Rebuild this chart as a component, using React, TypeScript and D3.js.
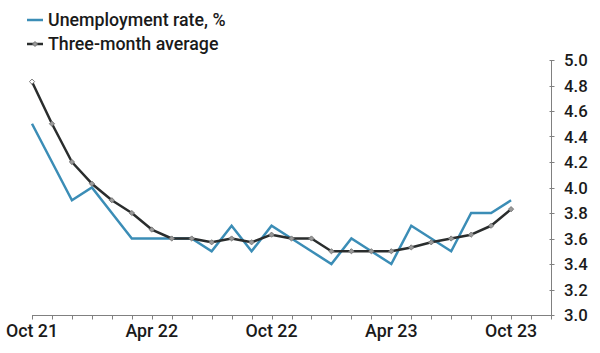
import React from "react";
import * as d3 from "d3";

const months = [
  "Oct 21", "Nov 21", "Dec 21", "Jan 22", "Feb 22", "Mar 22", "Apr 22", "May 22", "Jun 22",
  "Jul 22", "Aug 22", "Sep 22", "Oct 22", "Nov 22", "Dec 22", "Jan 23", "Feb 23", "Mar 23",
  "Apr 23", "May 23", "Jun 23", "Jul 23", "Aug 23", "Sep 23", "Oct 23",
];
const unemployment = [
  4.5, 4.2, 3.9, 4.0, 3.8, 3.6, 3.6, 3.6, 3.6, 3.5, 3.7, 3.5, 3.7,
  3.6, 3.5, 3.4, 3.6, 3.5, 3.4, 3.7, 3.6, 3.5, 3.8, 3.8, 3.9,
];
const threeMonthAvg = [
  4.83, 4.5, 4.2, 4.03, 3.9, 3.8, 3.67, 3.6, 3.6, 3.57, 3.6, 3.57, 3.63,
  3.6, 3.6, 3.5, 3.5, 3.5, 3.5, 3.53, 3.57, 3.6, 3.63, 3.7, 3.83,
];
const xTickLabels = ["Oct 21", "Apr 22", "Oct 22", "Apr 23", "Oct 23"];
const yTicks = [3.0, 3.2, 3.4, 3.6, 3.8, 4.0, 4.2, 4.4, 4.6, 4.8, 5.0];
const legendLabels = ["Unemployment rate, %", "Three-month average"];

const BLUE = "#3b8db6";
const DARK = "#2a2d2d";
const FONT = "Roboto, 'Liberation Sans', sans-serif";

export default function App() {
  const W = 600;
  const H = 353;
  const x = d3.scaleLinear().domain([0, 26]).range([32, 551]);
  const y = d3.scaleLinear().domain([3.0, 5.0]).range([315, 60]);
  const axisX = 551.5;
  const axisY = 315.5;

  const line = d3
    .line<number>()
    .x((_, i) => x(i))
    .y((d) => y(d));

  const xTickIdx = d3.range(0, 27);
  const diamond = (cx: number, cy: number, r: number) =>
    `M${cx},${cy - r}L${cx + r},${cy}L${cx},${cy + r}L${cx - r},${cy}Z`;

  return (
    <svg
      width={W}
      height={H}
      style={{ position: "absolute", left: 0, top: 0, background: "#fff" }}
      fontFamily={FONT}
    >
      {/* legend */}
      <line x1={27} x2={43} y1={20} y2={20} stroke={BLUE} strokeWidth={2.5} />
      <text x={48} y={25.5} fontSize={17.8} fontWeight={500} fill="#1a1a1a">
        {legendLabels[0]}
      </text>
      <line x1={27} x2={43} y1={44} y2={44} stroke={DARK} strokeWidth={2.5} />
      <path d={diamond(35, 44, 2.5)} fill="#999" stroke="#777" strokeWidth={1} />
      <text x={48} y={49.5} fontSize={17.8} fontWeight={500} fill="#1a1a1a">
        {legendLabels[1]}
      </text>

      {/* x axis */}
      <line x1={32} x2={axisX} y1={axisY} y2={axisY} stroke="#808080" strokeWidth={1} />
      {xTickIdx.map((i) => (
        <line
          key={i}
          x1={Math.round(x(i)) + 0.5}
          x2={Math.round(x(i)) + 0.5}
          y1={axisY}
          y2={axisY + 4}
          stroke="#808080"
          strokeWidth={1}
        />
      ))}
      {xTickLabels.map((lab) => {
        const i = months.indexOf(lab);
        return (
          <text
            key={lab}
            x={x(i)}
            y={337}
            textAnchor="middle"
            fontSize={17.8}
            fontWeight={500}
            fill="#1a1a1a"
          >
            {lab}
          </text>
        );
      })}

      {/* y axis */}
      <line x1={axisX} x2={axisX} y1={y(5.0)} y2={axisY} stroke="#808080" strokeWidth={1} />
      {yTicks.map((t) => (
        <g key={t}>
          <line
            x1={axisX - 2}
            x2={axisX + 3}
            y1={Math.round(y(t)) + 0.5}
            y2={Math.round(y(t)) + 0.5}
            stroke="#808080"
            strokeWidth={1}
          />
          <text
            x={564}
            y={y(t)}
            dy="0.36em"
            fontSize={16.8}
            fontWeight={500}
            fill="#1a1a1a"
          >
            {t.toFixed(1)}
          </text>
        </g>
      ))}

      {/* series */}
      <path d={line(unemployment) || ""} fill="none" stroke={BLUE} strokeWidth={2.5} strokeLinejoin="miter" />
      <path d={line(threeMonthAvg) || ""} fill="none" stroke={DARK} strokeWidth={2.5} strokeLinejoin="round" />
      {threeMonthAvg.map((v, i) => (
        <path
          key={i}
          d={diamond(x(i), y(v), 2.6)}
          fill={i === 0 ? "#fff" : "#9a9a9a"}
          stroke="#7a7a7a"
          strokeWidth={1}
        />
      ))}
    </svg>
  );
}
